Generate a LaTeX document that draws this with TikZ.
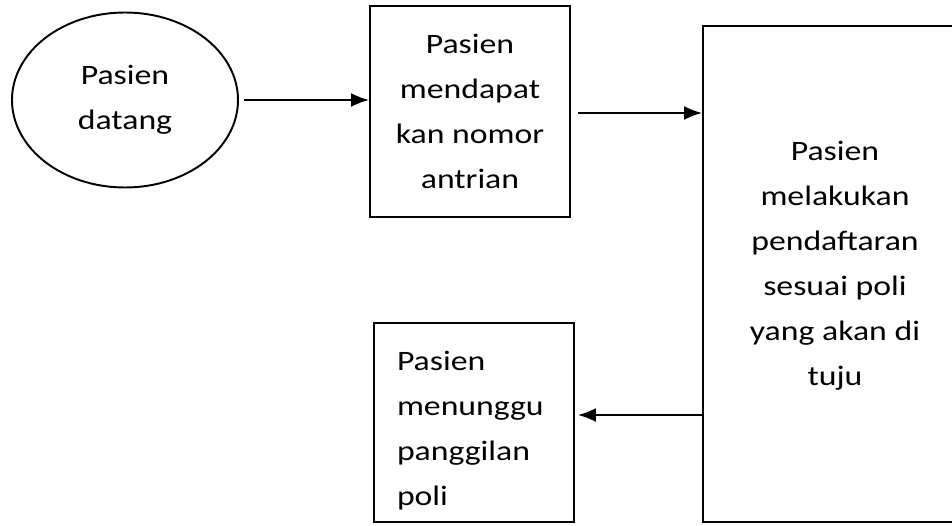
\documentclass[tikz,border=0pt]{standalone}
\usepackage{fontspec}
\setmainfont{Carlito}[FakeStretch=1.2]
\usepackage{tikz}
\usetikzlibrary{arrows.meta,shapes.geometric,positioning}

\begin{document}
\begin{tikzpicture}[>={Latex[length=3.6mm,width=2.8mm]},line width=1.1pt,
  font=\fontsize{16}{25.6}\selectfont,
  proses/.style={draw,rectangle,align=center,inner sep=0pt},
  alur/.style={->,line width=1.1pt}]
\useasboundingbox (0,0) rectangle (19.04,10.5);
\node[draw,ellipse,minimum width=4.52cm,minimum height=3.5cm,align=center] (datang) at (2.5,8.5){Pasien\\datang};
\node[proses,minimum width=4cm,minimum height=4.22cm] (antrian) at (9.4,8.27){Pasien\\mendapat\\kan nomor\\antrian};
\node[proses,minimum width=5.28cm,minimum height=9.92cm] (daftar) at (16.7,5.02){};
\node[align=center,inner sep=0pt] (daftartxt) at ([yshift=1.6mm]daftar.center){Pasien\\melakukan\\pendaftaran\\sesuai poli\\yang akan di\\tuju};
\node[proses,minimum width=4cm,minimum height=3.98cm] (tunggu) at (9.48,2.05){};
\node[align=left,anchor=west,inner sep=0pt] (tunggutxt) at ([xshift=4.6mm,yshift=-1.6mm]tunggu.west){Pasien\\menunggu\\panggilan\\poli};
\draw[alur] ([xshift=1mm]datang.east) -- (datang.east -| antrian.west);
\draw[alur] ([xshift=1.4mm,yshift=-0.3mm]antrian.east) coordinate (a1) -- (a1 -| daftar.west);
\coordinate (a2) at (daftar.west |- 0,2.2);
\draw[alur] (a2) -- ([xshift=0.6mm]a2 -| tunggu.east);
\end{tikzpicture}
\end{document}
